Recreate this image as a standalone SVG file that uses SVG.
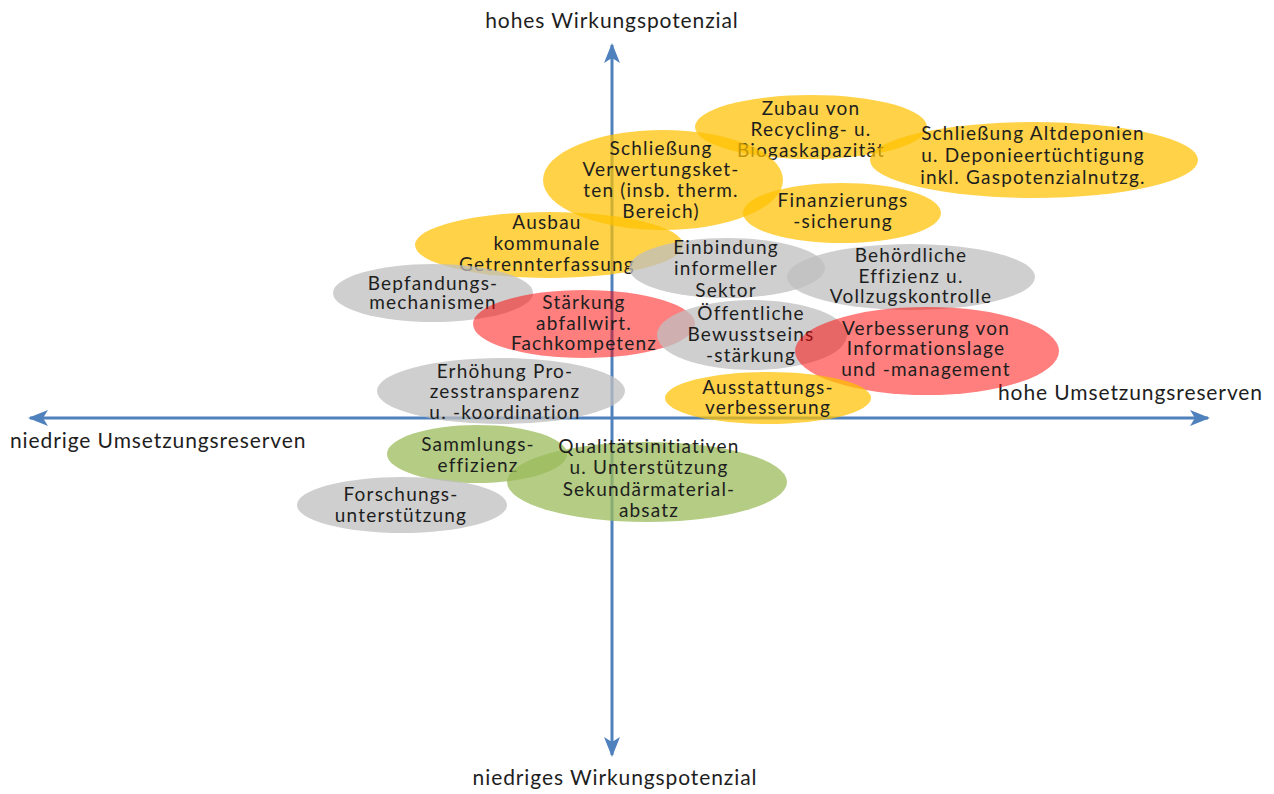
<svg xmlns="http://www.w3.org/2000/svg" width="1274" height="794" viewBox="0 0 1274 794">
<style>
text{font-family:Lato,"Liberation Sans",sans-serif;font-size:19px;letter-spacing:1.2px;fill:#1e1e1e;text-anchor:middle}
.lbl{font-size:21px;letter-spacing:0.9px}
.start{text-anchor:start}
.y{fill:#ffc000;fill-opacity:0.72}
.r{fill:#ff0000;fill-opacity:0.5}
.g{fill:#bfbfbf;fill-opacity:0.75}
.gr{fill:#9bbb59;fill-opacity:0.75}
.ax{stroke:#4f81bd;stroke-width:3;fill:none}
</style>
<defs>
<marker id="ah" viewBox="0 0 20 16" refX="18" refY="8" markerWidth="20" markerHeight="16" markerUnits="userSpaceOnUse" orient="auto">
<path d="M0,0 L20,8 L0,16 L5,8 Z" fill="#4f81bd"/>
</marker>
</defs>
<rect width="1274" height="794" fill="#ffffff"/>
<g id="connectors">
<line class="ax" x1="612" y1="418" x2="30" y2="418" marker-end="url(#ah)"/>
<line class="ax" x1="612" y1="418" x2="1208" y2="418" marker-end="url(#ah)"/>
<line class="ax" x1="612" y1="418" x2="612" y2="45" marker-end="url(#ah)"/>
<line class="ax" x1="612" y1="418" x2="612" y2="755" marker-end="url(#ah)"/>
</g>
<g id="axis-labels">
<text class="lbl" x="612" y="28">hohes Wirkungspotenzial</text>
<text class="lbl" x="615" y="785">niedriges Wirkungspotenzial</text>
<text class="lbl start" x="10" y="448">niedrige Umsetzungsreserven</text>
<text class="lbl start" x="998" y="400">hohe Umsetzungsreserven</text>
</g>
<g id="n-zubau">
<ellipse class="y" cx="811" cy="127" rx="116" ry="32"/>
<text x="811" y="115">Zubau von</text>
<text x="811" y="136">Recycling- u.</text>
<text x="811" y="157">Biogaskapazität</text>
</g>
<g id="n-altdeponien">
<ellipse class="y" cx="1034" cy="160" rx="164" ry="38"/>
<text x="1033" y="140">Schließung Altdeponien</text>
<text x="1033" y="162">u. Deponieertüchtigung</text>
<text x="1033" y="184">inkl. Gaspotenzialnutzg.</text>
</g>
<g id="n-verwertungsketten">
<ellipse class="y" cx="663" cy="180" rx="120" ry="50"/>
<text x="661" y="155">Schließung</text>
<text x="661" y="176">Verwertungsket-</text>
<text x="661" y="197">ten (insb. therm.</text>
<text x="661" y="218">Bereich)</text>
</g>
<g id="n-finanzierung">
<ellipse class="y" cx="842" cy="213" rx="99" ry="30"/>
<text x="843" y="207">Finanzierungs</text>
<text x="843" y="228">-sicherung</text>
</g>
<g id="n-ausbau">
<ellipse class="y" cx="549" cy="245" rx="134" ry="33"/>
<text x="547" y="229">Ausbau</text>
<text x="547" y="250">kommunale</text>
<text x="547" y="271">Getrennterfassung</text>
</g>
<g id="n-einbindung">
<ellipse class="g" cx="727" cy="268" rx="98" ry="30"/>
<text x="726" y="254">Einbindung</text>
<text x="726" y="275">informeller</text>
<text x="726" y="297">Sektor</text>
</g>
<g id="n-behoerdlich">
<ellipse class="g" cx="911" cy="277" rx="124" ry="33"/>
<text x="911" y="262">Behördliche</text>
<text x="911" y="283">Effizienz u.</text>
<text x="911" y="303">Vollzugskontrolle</text>
</g>
<g id="n-bepfandung">
<ellipse class="g" cx="433" cy="293" rx="100" ry="29"/>
<text x="433" y="290">Bepfandungs-</text>
<text x="433" y="309">mechanismen</text>
</g>
<g id="n-staerkung">
<ellipse class="r" cx="584" cy="324" rx="111" ry="34"/>
<text x="584" y="309">Stärkung</text>
<text x="584" y="330">abfallwirt.</text>
<text x="584" y="350">Fachkompetenz</text>
</g>
<g id="n-oeffentlich">
<ellipse class="g" cx="752" cy="335" rx="95" ry="35"/>
<text x="751" y="320">Öffentliche</text>
<text x="751" y="341">Bewusstseins</text>
<text x="751" y="362">-stärkung</text>
</g>
<g id="n-verbesserung">
<ellipse class="r" cx="927" cy="351" rx="132" ry="44"/>
<text x="926" y="335">Verbesserung von</text>
<text x="926" y="355">Informationslage</text>
<text x="926" y="376">und -management</text>
</g>
<g id="n-ausstattung">
<ellipse class="y" cx="768" cy="398" rx="103" ry="26"/>
<text x="768" y="394">Ausstattungs-</text>
<text x="768" y="414">verbesserung</text>
</g>
<g id="n-erhoehung">
<ellipse class="g" cx="501" cy="391" rx="124" ry="33"/>
<text x="505" y="378">Erhöhung Pro-</text>
<text x="505" y="398">zesstransparenz</text>
<text x="505" y="419">u. -koordination</text>
</g>
<g id="n-sammlung">
<ellipse class="gr" cx="477" cy="454" rx="90" ry="29"/>
<text x="478" y="451">Sammlungs-</text>
<text x="478" y="472">effizienz</text>
</g>
<g id="n-qualitaet">
<ellipse class="gr" cx="647" cy="482" rx="140" ry="40"/>
<text x="649" y="453">Qualitätsinitiativen</text>
<text x="649" y="474">u. Unterstützung</text>
<text x="649" y="496">Sekundärmaterial-</text>
<text x="649" y="517">absatz</text>
</g>
<g id="n-forschung">
<ellipse class="g" cx="402" cy="505" rx="105" ry="28"/>
<text x="401" y="501">Forschungs-</text>
<text x="401" y="522">unterstützung</text>
</g>
</svg>
